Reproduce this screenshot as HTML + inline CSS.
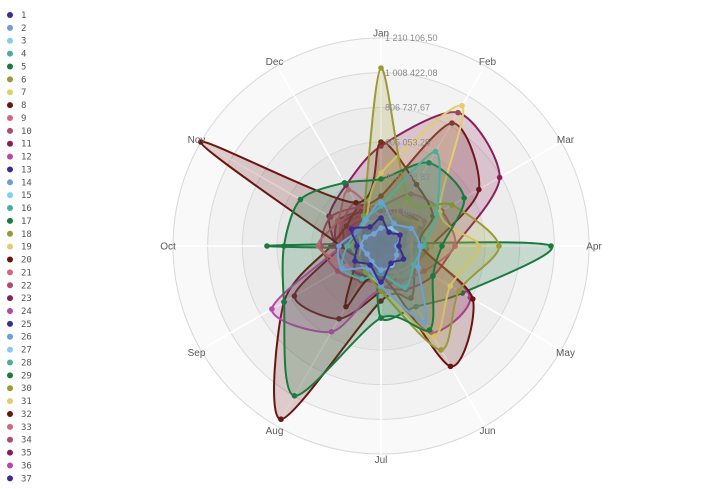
<!DOCTYPE html>
<html><head><meta charset="utf-8">
<style>
html,body{margin:0;padding:0;background:#fff;width:726px;height:489px;overflow:hidden;}
svg{display:block;}
.lg{font-family:"DejaVu Sans Mono","Liberation Mono",monospace;font-size:9px;fill:#555;}
.mo{font-family:"Liberation Sans",sans-serif;font-size:10px;fill:#595959;}
.tk{font-family:"Liberation Sans",sans-serif;font-size:9px;fill:#8a8a8a;}
</style></head><body>
<svg id="s" width="726" height="489" viewBox="0 0 726 489" xmlns="http://www.w3.org/2000/svg">
<g id="bg"></g>
<g id="series"></g>
<g id="ticks">
<text class="tk" x="385" y="214.5">201 684,42</text>
<text class="tk" x="385" y="180">403 368,83</text>
<text class="tk" x="385" y="145.3">605 053,25</text>
<text class="tk" x="385" y="110.6">806 737,67</text>
<text class="tk" x="385" y="75.9">1 008 422,08</text>
<text class="tk" x="385" y="41.2">1 210 106,50</text>
</g>
<g id="months">
<text class="mo" x="381" y="36.5" text-anchor="middle">Jan</text>
<text class="mo" x="487.5" y="65" text-anchor="middle">Feb</text>
<text class="mo" x="565.5" y="143" text-anchor="middle">Mar</text>
<text class="mo" x="594" y="249.5" text-anchor="middle">Apr</text>
<text class="mo" x="565.5" y="356" text-anchor="middle">May</text>
<text class="mo" x="487.5" y="434" text-anchor="middle">Jun</text>
<text class="mo" x="381" y="463" text-anchor="middle">Jul</text>
<text class="mo" x="274.5" y="434" text-anchor="middle">Aug</text>
<text class="mo" x="196.5" y="356" text-anchor="middle">Sep</text>
<text class="mo" x="168" y="249.5" text-anchor="middle">Oct</text>
<text class="mo" x="196.5" y="143" text-anchor="middle">Nov</text>
<text class="mo" x="274.5" y="65" text-anchor="middle">Dec</text>
</g>
<g id="legend">
<text class="lg" x="21" y="18">1</text>
<text class="lg" x="21" y="30.9">2</text>
<text class="lg" x="21" y="43.7">3</text>
<text class="lg" x="21" y="56.6">4</text>
<text class="lg" x="21" y="69.5">5</text>
<text class="lg" x="21" y="82.4">6</text>
<text class="lg" x="21" y="95.2">7</text>
<text class="lg" x="21" y="108.1">8</text>
<text class="lg" x="21" y="121">9</text>
<text class="lg" x="21" y="133.8">10</text>
<text class="lg" x="21" y="146.7">11</text>
<text class="lg" x="21" y="159.6">12</text>
<text class="lg" x="21" y="172.4">13</text>
<text class="lg" x="21" y="185.3">14</text>
<text class="lg" x="21" y="198.2">15</text>
<text class="lg" x="21" y="211">16</text>
<text class="lg" x="21" y="223.9">17</text>
<text class="lg" x="21" y="236.8">18</text>
<text class="lg" x="21" y="249.7">19</text>
<text class="lg" x="21" y="262.5">20</text>
<text class="lg" x="21" y="275.4">21</text>
<text class="lg" x="21" y="288.3">22</text>
<text class="lg" x="21" y="301.1">23</text>
<text class="lg" x="21" y="314">24</text>
<text class="lg" x="21" y="326.9">25</text>
<text class="lg" x="21" y="339.7">26</text>
<text class="lg" x="21" y="352.6">27</text>
<text class="lg" x="21" y="365.5">28</text>
<text class="lg" x="21" y="378.3">29</text>
<text class="lg" x="21" y="391.2">30</text>
<text class="lg" x="21" y="404.1">31</text>
<text class="lg" x="21" y="417">32</text>
<text class="lg" x="21" y="429.8">33</text>
<text class="lg" x="21" y="442.7">34</text>
<text class="lg" x="21" y="455.6">35</text>
<text class="lg" x="21" y="468.4">36</text>
<text class="lg" x="21" y="481.3">37</text>
</g>
<g id="ldots"></g>
</svg>
<script>
(function(){
var NS="http://www.w3.org/2000/svg";
var cx=381, cy=246, R=208;
var colors=['#3b2e8f','#6a9fd8','#85cdef','#4aae9c','#1a7a3f','#9b9a34','#e3cd6e','#6b1510','#d4687a','#b4496a','#8b1f5a','#b848a8'];
function el(tag,attrs,parent){var e=document.createElementNS(NS,tag);for(var k in attrs)e.setAttribute(k,attrs[k]);parent.appendChild(e);return e;}
var bg=document.getElementById('bg');
for(var k=6;k>=1;k--){
  el('circle',{cx:cx,cy:cy,r:(R*k/6).toFixed(2),fill:'rgba(0,0,0,0.022)',stroke:'#d8d8d8','stroke-width':1},bg);
}
for(var m=0;m<12;m++){
  var a=(-90+30*m)*Math.PI/180;
  el('line',{x1:cx,y1:cy,x2:(cx+R*Math.cos(a)).toFixed(2),y2:(cy+R*Math.sin(a)).toFixed(2),stroke:'#fff','stroke-width':1.6},bg);
}
var data=[
[28,16,22,18,26,20,36,22,30,24,34,22],
[44,26,35,39,43,88,40,26,45,42,28,30],
[18,20,22,16,18,22,24,18,16,20,18,14],
[40,109,64,42,38,48,28,38,45,34,28,32],
[67,96,96,61,60,97,72,173,112,97,93,73],
[178,55,82,118,90,120,45,30,25,30,25,35],
[73,162,68,98,80,105,40,30,25,20,25,30],
[104,71,60,40,106,139,30,70,30,40,208,50],
[30,35,40,30,35,30,25,30,40,63,50,65],
[40,60,70,74,50,40,35,40,50,60,58,45],
[100,154,137,74,60,50,40,35,40,45,60,70],
[30,40,50,40,103,100,45,99,126,40,35,30],
[20,24,28,22,18,24,28,20,24,32,24,20],
[20,25,32,30,25,30,20,25,30,28,22,20],
[12,15,18,14,16,12,15,18,14,12,15,16],
[22,30,40,45,30,25,28,22,18,20,22,25],
[8,6,5,170,94,70,72,8,6,114,6,5],
[28,35,40,45,38,30,25,22,20,25,28,30],
[25,30,45,50,40,35,30,25,20,22,25,28],
[50,142,113,50,40,60,55,200,112,50,40,45],
[25,22,28,20,25,30,28,35,30,40,45,50],
[30,28,35,32,30,28,25,30,35,40,45,35],
[35,40,45,30,28,25,30,35,40,45,50,40],
[20,25,30,35,28,25,22,30,28,25,22,20],
[22,20,18,16,20,26,22,18,22,26,22,20],
[25,30,28,25,30,35,28,25,28,30,25,22],
[16,14,18,16,14,18,20,16,14,16,18,15],
[20,35,45,38,30,35,25,30,28,25,22,20],
[18,22,20,18,16,20,18,22,18,20,22,18],
[22,25,28,24,22,26,20,22,24,20,22,24],
[20,22,26,30,25,22,18,20,22,18,20,22],
[40,30,35,30,30,35,45,84,100,40,45,40],
[18,20,22,18,20,22,24,20,18,22,20,18],
[22,25,28,25,22,20,25,28,30,26,24,22],
[26,30,24,22,28,26,24,30,28,32,36,30],
[18,20,22,24,20,18,22,24,20,18,20,22],
[12,14,15,13,12,14,15,13,12,14,13,12]
];
function f(v){return v.toFixed(2);}
function pathOf(pts){
  var n=pts.length, t=0.85/6;
  var d='M'+f(pts[0][0])+','+f(pts[0][1]);
  for(var i=0;i<n;i++){
    var p0=pts[(i-1+n)%n],p1=pts[i],p2=pts[(i+1)%n],p3=pts[(i+2)%n];
    var c1x=p1[0]+(p2[0]-p0[0])*t, c1y=p1[1]+(p2[1]-p0[1])*t;
    var c2x=p2[0]-(p3[0]-p1[0])*t, c2y=p2[1]-(p3[1]-p1[1])*t;
    d+='C'+f(c1x)+','+f(c1y)+' '+f(c2x)+','+f(c2y)+' '+f(p2[0])+','+f(p2[1]);
  }
  return d+'Z';
}
var sg=document.getElementById('series');
for(var s=data.length-1;s>=0;s--){
  var col=colors[s%12];
  var pts=[];
  for(var m=0;m<12;m++){
    var a=(-90+30*m)*Math.PI/180, r=data[s][m];
    pts.push([cx+r*Math.cos(a), cy+r*Math.sin(a)]);
  }
  var g=el('g',{},sg);
  el('path',{d:pathOf(pts),fill:col,'fill-opacity':0.2,stroke:col,'stroke-width':2,'stroke-linejoin':'round'},g);
  for(var m=0;m<12;m++){
    el('circle',{cx:f(pts[m][0]),cy:f(pts[m][1]),r:2.8,fill:col},g);
  }
}
var ld=document.getElementById('ldots');
for(var i=0;i<37;i++){
  el('circle',{cx:10,cy:(15+12.87*i).toFixed(2),r:3,fill:colors[i%12]},ld);
}
})();
</script>
</body></html>
